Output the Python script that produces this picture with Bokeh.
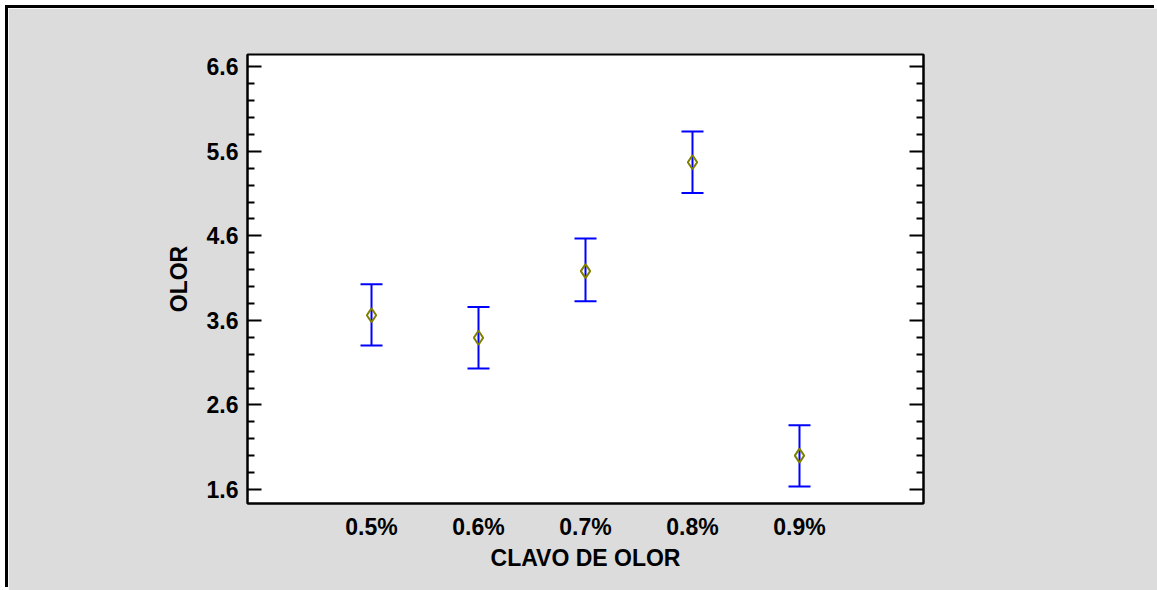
from bokeh.plotting import figure
from bokeh.models import (ColumnDataSource, Range1d, LinearAxis, FixedTicker,
                          Whisker, TeeHead)
from bokeh.embed import file_html
from bokeh.resources import INLINE

# ---- data ----
categories = ["0.5%", "0.6%", "0.7%", "0.8%", "0.9%"]
means = [3.66, 3.395, 4.183, 5.47, 2.0]
upper = [4.026, 3.757, 4.570, 5.833, 2.361]
lower = [3.304, 3.032, 3.825, 5.107, 1.635]
y_ticks = [1.6, 2.6, 3.6, 4.6, 5.6, 6.6]
y_minor = [1.8, 2.0, 2.2, 2.4, 2.8, 3.0, 3.2, 3.4, 3.8, 4.0, 4.2, 4.4,
           4.8, 5.0, 5.2, 5.4, 5.8, 6.0, 6.2, 6.4]
x_title = "CLAVO DE OLOR"
y_title = "OLOR"

xpos = list(range(1, len(categories) + 1))
src = ColumnDataSource(dict(x=xpos, m=means, up=upper, lo=lower))

FONT = "Liberation Sans"
GRAY = "#DCDCDC"

p = figure(width=1149, height=582, output_backend="svg", toolbar_location=None,
           x_range=Range1d(-0.159, 6.159), y_range=Range1d(1.434, 6.745),
           min_border_left=239, min_border_right=234, min_border_top=46,
           min_border_bottom=87, background_fill_color="white",
           border_fill_color=GRAY, x_axis_type=None, y_axis_type=None)
p.styles = {"margin-left": "8px", "margin-top": "8px",
            "box-shadow": "-3px -3px 0 0 #000000"}
p.outline_line_color = "black"
p.outline_line_width = 2
p.xgrid.visible = False
p.ygrid.visible = False

xa = LinearAxis(ticker=FixedTicker(ticks=xpos),
                major_label_overrides={i: c for i, c in zip(xpos, categories)})
xa.axis_label = x_title
xa.major_tick_line_color = None
xa.minor_tick_line_color = None
xa.axis_line_width = 2
xa.major_label_text_font = FONT
xa.major_label_text_font_style = "bold"
xa.major_label_text_font_size = "23px"
xa.major_label_text_color = "black"
xa.major_label_standoff = 4
xa.axis_label_text_font = FONT
xa.axis_label_text_font_style = "bold"
xa.axis_label_text_font_size = "23px"
xa.axis_label_text_color = "black"
xa.axis_label_standoff = 2
p.add_layout(xa, "below")

def yaxis(show_labels):
    a = LinearAxis(ticker=FixedTicker(ticks=y_ticks, minor_ticks=y_minor))
    a.major_tick_in = 14
    a.major_tick_out = 0
    a.minor_tick_in = 7
    a.minor_tick_out = 0
    a.major_tick_line_width = 2
    a.minor_tick_line_width = 2
    a.axis_line_width = 2
    a.major_label_text_font = FONT
    a.major_label_text_font_style = "bold"
    a.major_label_text_font_size = "23px"
    a.major_label_standoff = 9
    if show_labels:
        a.major_label_text_color = "black"
        a.axis_label = y_title
        a.axis_label_text_font = FONT
        a.axis_label_text_font_style = "bold"
        a.axis_label_text_font_size = "23px"
        a.axis_label_text_color = "black"
        a.axis_label_standoff = 12
    else:
        a.major_label_text_color = None
    return a

p.add_layout(yaxis(True), "left")
p.add_layout(yaxis(False), "right")

w = Whisker(base="x", upper="up", lower="lo", source=src, dimension="height",
            line_color="#0000FF", line_width=2, level="underlay",
            upper_head=TeeHead(size=22, line_color="#0000FF", line_width=2),
            lower_head=TeeHead(size=22, line_color="#0000FF", line_width=2))
p.add_layout(w)

p.scatter("x", "m", source=src, marker="diamond", size=14, fill_color=None,
          line_color="#808000", line_width=2)

open("out.html", "w").write(file_html(p, INLINE))
